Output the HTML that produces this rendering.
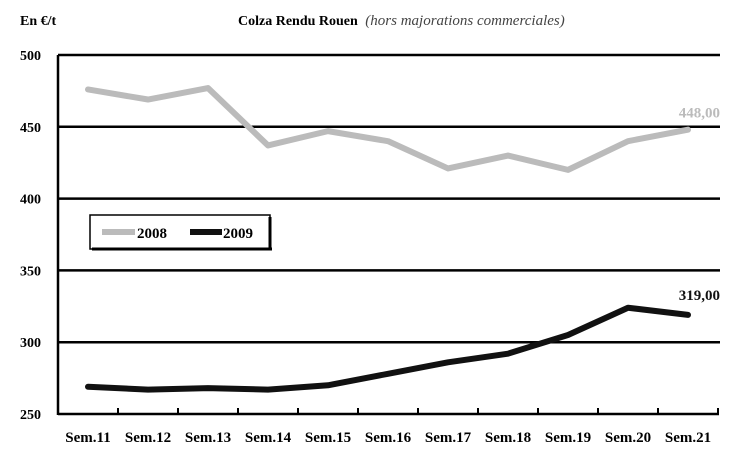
<!DOCTYPE html>
<html><head><meta charset="utf-8"><style>
body{margin:0;background:#fff;}
svg{display:block;font-family:"Liberation Serif",serif;font-weight:bold;}
</style></head><body>
<svg width="747" height="454">
<text x="20" y="25" font-size="14">En €/t</text>
<text x="238" y="25" font-size="14">Colza Rendu Rouen <tspan font-style="italic" font-weight="normal" fill="#444" dx="4" font-size="15">(hors majorations commerciales)</tspan></text>
<g id="grid"></g><g id="series"></g>
<g>
<rect x="90" y="215" width="180" height="34" fill="#fff" stroke="#000" stroke-width="1.5"/>
<line x1="92" y1="249" x2="272" y2="249" stroke="#000" stroke-width="3"/>
<line x1="270" y1="217" x2="270" y2="250" stroke="#000" stroke-width="3"/>
<line x1="102" y1="232" x2="135" y2="232" stroke="#bbb" stroke-width="6"/>
<text x="137" y="238" font-size="15">2008</text>
<line x1="190" y1="232" x2="222" y2="232" stroke="#111" stroke-width="6"/>
<text x="223" y="238" font-size="15">2009</text>
</g>
</svg>
<script>
const categories=["Sem.11","Sem.12","Sem.13","Sem.14","Sem.15","Sem.16","Sem.17","Sem.18","Sem.19","Sem.20","Sem.21"];
const values2008=[476,469,477,437,447,440,421,430,420,440,448];
const values2009=[269,267,268,267,270,278,286,292,305,324,319];
const yTicks=[250,300,350,400,450,500];
const NS="http://www.w3.org/2000/svg";
const L=58,R=718,T=55,B=414;
const y=v=>B-(v-250)/250*(B-T);
const band=(R-L)/categories.length;
const x=i=>L+band*(i+0.5);
const grid=document.getElementById('grid'),ser=document.getElementById('series');
function mk(t,a,p){const e=document.createElementNS(NS,t);for(const k in a)e.setAttribute(k,a[k]);p.appendChild(e);return e;}
yTicks.forEach(v=>{
 if(v>250){const l=mk('line',{x1:L,x2:R+2,y1:y(v),y2:y(v),stroke:'#000','stroke-width':2.5},grid);
 
 }
 const t=mk('text',{x:20,y:y(v)+5,'font-size':14},grid);t.textContent=v;
 
 
});
const ax=mk('line',{x1:L,x2:L,y1:T,y2:B+1,stroke:'#000','stroke-width':2.5},grid);


const xa=mk('line',{x1:L,x2:R+1,y1:B,y2:B,stroke:'#000','stroke-width':2.5},grid);


categories.forEach((c,i)=>{
 const tk=mk('line',{x1:L+band*(i+1),x2:L+band*(i+1),y1:B-6,y2:B,stroke:'#000','stroke-width':2},grid);
 
 
 const t=mk('text',{x:x(i),y:442,'font-size':15,'text-anchor':'middle'},grid);t.textContent=c;
 
 
});
function line(vals,col,w,name){
 const p=mk('polyline',{points:vals.map((v,i)=>x(i)+','+y(v)).join(' '),fill:'none',stroke:col,'stroke-width':w,'stroke-linejoin':'round','stroke-linecap':'round'},ser);
 
 
}
line(values2008,'#bbb',6,'line-2008');
line(values2009,'#111',6,'line-2009');
const n=categories.length-1;
const l1=mk('text',{x:x(n)+32,y:y(values2008[n])-12,'font-size':15,'text-anchor':'end',fill:'#bbb'},ser);
l1.textContent=values2008[n].toFixed(2).replace('.',',');


const l2=mk('text',{x:x(n)+32,y:y(values2009[n])-15,'font-size':15,'text-anchor':'end',fill:'#111'},ser);
l2.textContent=values2009[n].toFixed(2).replace('.',',');


</script>
</body></html>
